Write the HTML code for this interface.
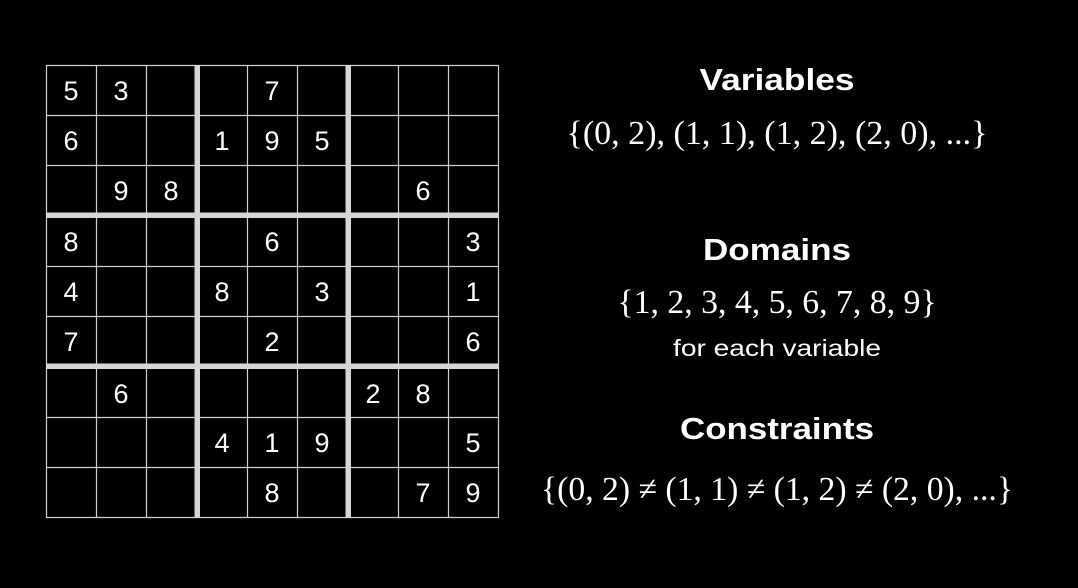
<!DOCTYPE html>
<html><head><meta charset="utf-8"><style>
html,body{margin:0;padding:0;background:#000;width:1078px;height:588px;overflow:hidden}
</style></head><body>
<svg width="1078" height="588" xmlns="http://www.w3.org/2000/svg">
<rect width="1078" height="588" fill="#000"/>
<g stroke="#d0d0d0" stroke-width="1.2">
<line x1="46.5" y1="65" x2="46.5" y2="518"/>
<line x1="96.5" y1="65" x2="96.5" y2="518"/>
<line x1="146.5" y1="65" x2="146.5" y2="518"/>
<line x1="247.5" y1="65" x2="247.5" y2="518"/>
<line x1="297.5" y1="65" x2="297.5" y2="518"/>
<line x1="398.5" y1="65" x2="398.5" y2="518"/>
<line x1="448.5" y1="65" x2="448.5" y2="518"/>
<line x1="498.5" y1="65" x2="498.5" y2="518"/>
<line x1="46" y1="65.5" x2="499" y2="65.5"/>
<line x1="46" y1="115.5" x2="499" y2="115.5"/>
<line x1="46" y1="165.5" x2="499" y2="165.5"/>
<line x1="46" y1="266.5" x2="499" y2="266.5"/>
<line x1="46" y1="316.5" x2="499" y2="316.5"/>
<line x1="46" y1="417.5" x2="499" y2="417.5"/>
<line x1="46" y1="467.5" x2="499" y2="467.5"/>
<line x1="46" y1="517.5" x2="499" y2="517.5"/>
</g>
<g fill="#d6d6d6">
<rect x="194.5" y="65" width="5.5" height="453"/>
<rect x="345.5" y="65" width="5.5" height="453"/>
<rect x="46" y="212.5" width="453" height="5.5"/>
<rect x="46" y="363.5" width="453" height="5.5"/>
</g>
<g fill="#fff" font-family="Liberation Sans, sans-serif" font-size="27" text-anchor="middle">
<text x="71" y="100">5</text><text x="121" y="100">3</text><text x="272" y="100">7</text>
<text x="71" y="150">6</text><text x="222" y="150">1</text><text x="272" y="150">9</text><text x="322" y="150">5</text>
<text x="121" y="200">9</text><text x="171" y="200">8</text><text x="423" y="200">6</text>
<text x="71" y="251">8</text><text x="272" y="251">6</text><text x="473" y="251">3</text>
<text x="71" y="301">4</text><text x="222" y="301">8</text><text x="322" y="301">3</text><text x="473" y="301">1</text>
<text x="71" y="351">7</text><text x="272" y="351">2</text><text x="473" y="351">6</text>
<text x="121" y="403">6</text><text x="373" y="403">2</text><text x="423" y="403">8</text>
<text x="222" y="452">4</text><text x="272" y="452">1</text><text x="322" y="452">9</text><text x="473" y="452">5</text>
<text x="272" y="502">8</text><text x="423" y="502">7</text><text x="473" y="502">9</text>
</g>
<g fill="#fff" text-anchor="middle">
<text x="777" y="90" font-family="Liberation Sans, sans-serif" font-weight="bold" font-size="31" textLength="155" lengthAdjust="spacingAndGlyphs">Variables</text>
<text x="777" y="144" font-family="Liberation Serif, serif" font-size="34" textLength="421" lengthAdjust="spacingAndGlyphs">{(0, 2), (1, 1), (1, 2), (2, 0), ...}</text>
<text x="777" y="260" font-family="Liberation Sans, sans-serif" font-weight="bold" font-size="31" textLength="148" lengthAdjust="spacingAndGlyphs">Domains</text>
<text x="777" y="313" font-family="Liberation Serif, serif" font-size="34" textLength="319" lengthAdjust="spacingAndGlyphs">{1, 2, 3, 4, 5, 6, 7, 8, 9}</text>
<text x="777" y="356" font-family="Liberation Sans, sans-serif" font-size="23" textLength="208" lengthAdjust="spacingAndGlyphs">for each variable</text>
<text x="777" y="439" font-family="Liberation Sans, sans-serif" font-weight="bold" font-size="31" textLength="194" lengthAdjust="spacingAndGlyphs">Constraints</text>
<text x="777" y="500" font-family="Liberation Serif, serif" font-size="34" textLength="472" lengthAdjust="spacingAndGlyphs">{(0, 2) ≠ (1, 1) ≠ (1, 2) ≠ (2, 0), ...}</text>
</g>
</svg>
</body></html>
